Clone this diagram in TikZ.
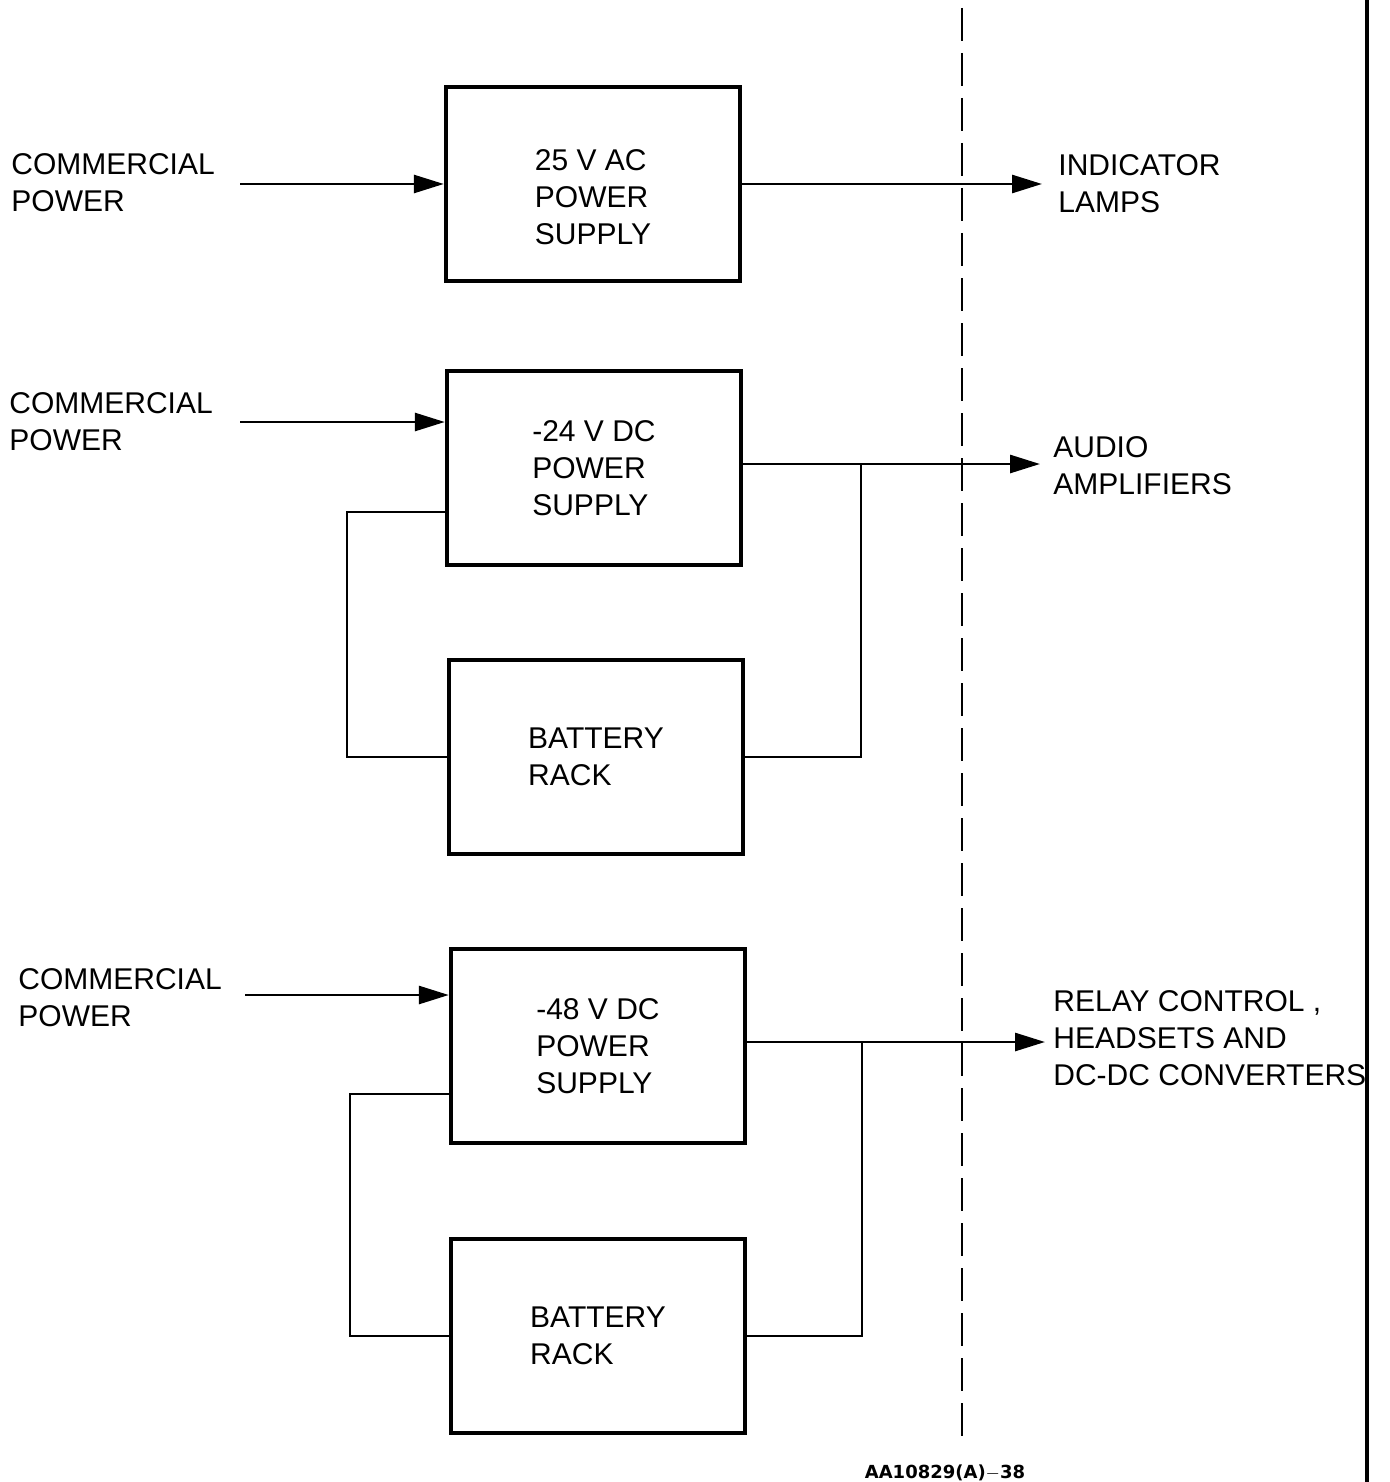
\documentclass[tikz,border=0pt]{standalone}
\usepackage{fontspec}
\setmainfont{Liberation Sans}
\newfontfamily\tagfont{DejaVu Sans}
\usetikzlibrary{arrows.meta}

\begin{document}
\begin{tikzpicture}[x=0.5pt,y=-0.5pt,line width=1.4pt,>={Triangle[length=15pt,width=9pt]}]
	\def \rowone{184}
	\def \rowtwo{468}
	\def \battone{757}
	\def \rowthree{1046}
	\def \batttwo{1336}
	\tikzstyle{p-box}=[draw=black,line width=2.2pt,minimum width=147pt,minimum height=97pt,align=left,inner sep=0pt]
	\tikzstyle{annot}=[anchor=west,align=left,inner sep=0pt]
	\tikzstyle{sep-line}=[line width=1.3pt,dash pattern=on 16.5pt off 6pt,dash phase=18.5pt]
	\useasboundingbox (0,0) rectangle (1390,1482);
	\fontsize{15}{18.5}\selectfont

	% supplies and batteries
	\node[p-box,label={[align=left,inner sep=0pt,yshift=-6.5pt]center:25 V AC\\POWER\\SUPPLY}] (ps1) at (593,\rowone) {};
	\node[p-box] (ps2) at (594,\rowtwo) {-24 V DC\\POWER\\SUPPLY};
	\node[p-box] (bat1) at (596,\battone) {BATTERY\\RACK};
	\node[p-box] (ps3) at (598,\rowthree) {-48 V DC\\POWER\\SUPPLY};
	\node[p-box] (bat2) at (598,\batttwo) {BATTERY\\RACK};

	% inputs
	\node[annot] (cp1) at (10,183) {COMMERCIAL\\POWER};
	\node[annot] (cp2) at (8,422) {COMMERCIAL\\POWER};
	\node[annot] (cp3) at (17,998) {COMMERCIAL\\POWER};

	% outputs
	\node[annot] (lamps) at (1057,184) {INDICATOR\\LAMPS};
	\node[annot] (audio) at (1052,466) {AUDIO\\AMPLIFIERS};
	\node[annot] (relay) at (1052,1038) {RELAY CONTROL ,\\HEADSETS AND\\DC-DC CONVERTERS};

	\node[inner sep=0pt] (tag) at (945,1473) {\tagfont\bfseries\fontsize{9}{11}\selectfont AA10829(A)$-$38};

	% wire ends and corners
	\coordinate (in1) at (240,\rowone);
	\coordinate (in2) at (240,422);
	\coordinate (in3) at (245,995);
	\coordinate (out1) at (1042,\rowone);
	\coordinate (out2) at (1040,464);
	\coordinate (out3) at (1045,1042);
	\coordinate (j2) at (861,464);
	\coordinate (j3) at (862,1042);
	\coordinate (lp2) at (347,512);
	\coordinate (lp3) at (350,1094);
	\coordinate (dtop) at (962,0);
	\coordinate (dbot) at (962,1440);
	\coordinate (rtop) at (1367,0);
	\coordinate (rbot) at (1367,1482);

	% wiring
	\draw[->] (in1) -- (ps1);
	\draw[->] (ps1) -- (out1);
	\draw[->] (in2) -- (in2 -| ps2.west);
	\draw[->] (ps2.east |- j2) -- (out2);
	\draw (ps2.west |- lp2) -- (lp2) |- (bat1.west);
	\draw (bat1.east) -| (j2);
	\draw[->] (in3) -- (in3 -| ps3.west);
	\draw[->] (ps3.east |- j3) -- (out3);
	\draw (ps3.west |- lp3) -- (lp3) |- (bat2.west);
	\draw (bat2.east) -| (j3);

	% boundaries
	\draw[sep-line] (dtop) -- (dbot);
	\draw[line width=2pt] (rtop) -- (rbot);
\end{tikzpicture}
\end{document}
